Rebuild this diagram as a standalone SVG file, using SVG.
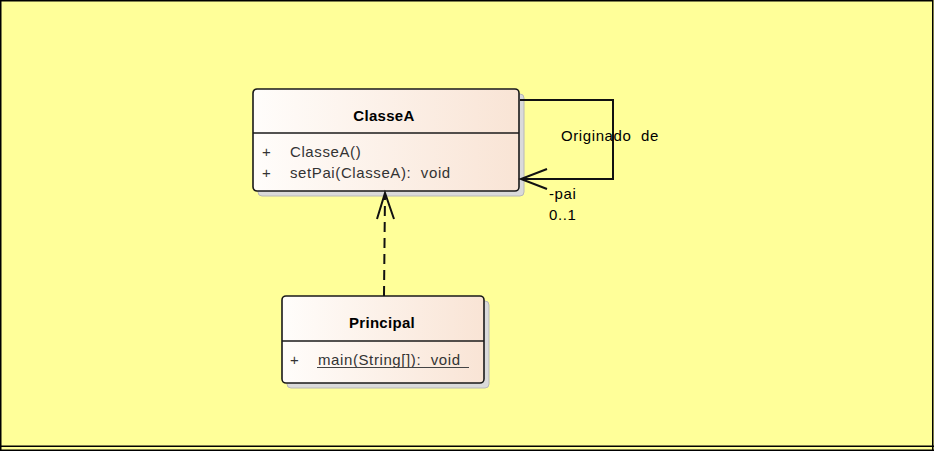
<svg xmlns="http://www.w3.org/2000/svg" width="934" height="451" viewBox="0 0 934 451">
<defs>
<linearGradient id="g" x1="0" y1="0" x2="1" y2="0">
<stop offset="0" stop-color="#FFFDFB"/>
<stop offset="1" stop-color="#F9E4D5"/>
</linearGradient>
<style>
.frame{stroke:#000;stroke-width:1.5;fill:none}
.shadow{fill:#DADADA;stroke:#B8B8B8;stroke-width:1}
.box{fill:url(#g);stroke:#1a1a1a;stroke-width:1.6}
.div{stroke:#1a1a1a;stroke-width:1.6}
.title{font-family:"Liberation Sans",Arial,sans-serif;font-size:15px;font-weight:bold;fill:#000;letter-spacing:0.3px}
.mem{font-family:"Liberation Sans",Arial,sans-serif;font-size:15px;fill:#333;letter-spacing:0.6px;white-space:pre}
.lbl{font-family:"Liberation Sans",Arial,sans-serif;font-size:15px;fill:#000;letter-spacing:0.6px;white-space:pre}
.conn{stroke:#111;stroke-width:2;fill:none}
</style>
</defs>
<rect x="0" y="0" width="934" height="451" fill="#FFFF99"/>
<path class="frame" d="M0.75 451V0.75H932.75V451M0 446.25H934M0 450.25H934"/>

<g id="ClasseA">
<rect class="shadow" x="258" y="94" width="266" height="102" rx="4"/>
<rect class="box" x="253" y="89" width="266" height="102" rx="4"/>
<line class="div" x1="253" y1="133" x2="519" y2="133"/>
<text class="title" x="384" y="121" text-anchor="middle">ClasseA</text>
<text class="mem" x="262" y="157">+</text>
<text class="mem" x="290" y="157">ClasseA()</text>
<text class="mem" x="262" y="178">+</text>
<text class="mem" x="290" y="178">setPai(ClasseA):  void</text>
</g>

<g id="Principal">
<rect class="shadow" x="287" y="301" width="202" height="87" rx="4"/>
<rect class="box" x="282" y="296" width="202" height="87" rx="4"/>
<line class="div" x1="282" y1="341" x2="484" y2="341"/>
<text class="title" x="382" y="328" text-anchor="middle">Principal</text>
<text class="mem" x="290" y="365">+</text>
<text class="mem" x="318" y="365">main(String[]):  void</text>
<line x1="317" y1="367.5" x2="469" y2="367.5" stroke="#444" stroke-width="1.2"/>
</g>

<g id="connectors">
<path class="conn" d="M384 296L385 194" stroke-dasharray="10 6"/>
<path class="conn" d="M377 219L385 193L394 219"/>
<path class="conn" d="M520 100H613V179H521"/>
<path class="conn" d="M547 169L521 179L547 189"/>
<text class="lbl" x="561" y="141">Originado  de</text>
<text class="lbl" x="549" y="199">-pai</text>
<text class="lbl" x="549" y="220">0..1</text>
</g>
</svg>
